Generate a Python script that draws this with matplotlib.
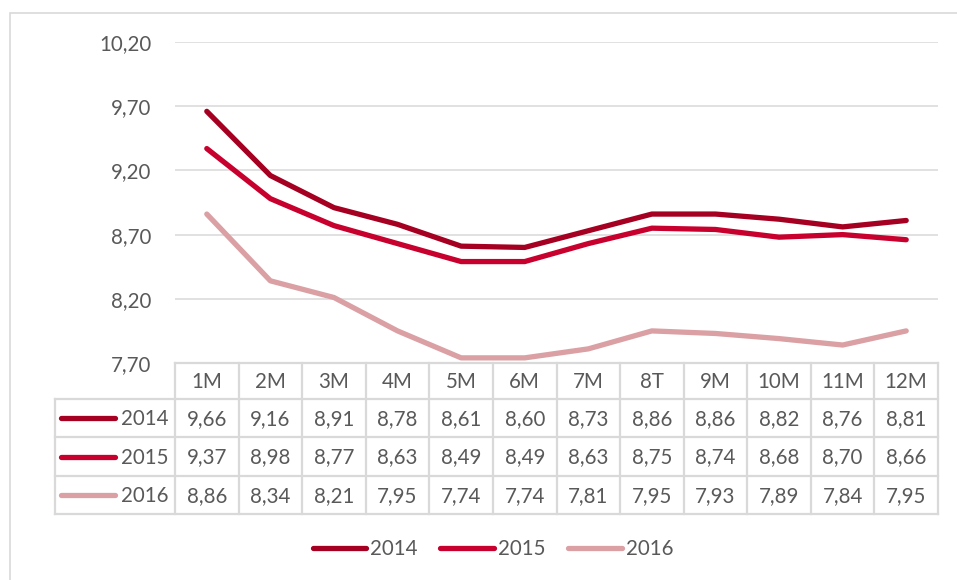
import matplotlib
matplotlib.use("Agg")
import matplotlib.pyplot as plt
from matplotlib.lines import Line2D
from matplotlib.patches import Rectangle

months = ["1M", "2M", "3M", "4M", "5M", "6M", "7M", "8T", "9M", "10M", "11M", "12M"]
series_names = ["2014", "2015", "2016"]
v2014 = [9.66, 9.16, 8.91, 8.78, 8.61, 8.60, 8.73, 8.86, 8.86, 8.82, 8.76, 8.81]
v2015 = [9.37, 8.98, 8.77, 8.63, 8.49, 8.49, 8.63, 8.75, 8.74, 8.68, 8.70, 8.66]
v2016 = [8.86, 8.34, 8.21, 7.95, 7.74, 7.74, 7.81, 7.95, 7.93, 7.89, 7.84, 7.95]
yticks = [7.70, 8.20, 8.70, 9.20, 9.70, 10.20]

colors = ["#A50021", "#C8002D", "#DAA0A4"]
series = [v2014, v2015, v2016]
txt = "#595959"
grid = "#D9D9D9"
FONT = "Lato"
FS = 14.8

W, H = 957, 580
fig = plt.figure(figsize=(W / 100, H / 100), dpi=100)

def fx(px):
    return px / W

def fy(py):
    return 1 - py / H

# outer frame
fig.patches.append(Rectangle((fx(9.5), fy(1000)), fx(2000), fy(12.5) - fy(1000),
                             transform=fig.transFigure, fill=False,
                             edgecolor=grid, linewidth=1.2))

# plot area
x0, x1 = 175, 938
ytop, ybot = 42, 363
ax = fig.add_axes([fx(x0), fy(ybot), fx(x1) - fx(x0), fy(ytop) - fy(ybot)])
xs = list(range(len(months)))
for vals, c in zip(series, colors):
    ax.plot(xs, vals, color=c, linewidth=3.8, solid_capstyle="round",
            solid_joinstyle="round", zorder=3)
ax.set_xlim(-0.5, len(months) - 0.5)
ax.set_ylim(yticks[0], yticks[-1])
ax.set_yticks(yticks)
ax.set_yticklabels([f"{t:.2f}".replace(".", ",") for t in yticks],
                   fontsize=FS, color=txt, fontfamily=FONT)
ax.tick_params(axis="y", length=0, pad=17)
ax.set_xticks([])
ax.grid(axis="y", color=grid, linewidth=1.1)
for s in ax.spines.values():
    s.set_visible(False)
ax.set_facecolor("none")

# data table
colw = (x1 - x0) / len(months)
hdr_left = 55
rows_y = [363, 399, 437, 476, 514]
tab = fig.add_axes([fx(hdr_left), fy(rows_y[-1]), fx(x1) - fx(hdr_left),
                    fy(rows_y[0]) - fy(rows_y[-1])])
hdr_cols = (x0 - hdr_left) / colw
tab.set_xlim(-0.5 - hdr_cols, len(months) - 0.5)
tab.set_ylim(rows_y[-1], rows_y[0])
tab.axis("off")
lw = 1.6
# horizontal lines
tab.plot([-0.5, len(months) - 0.5], [rows_y[0]] * 2, color=grid, lw=lw, clip_on=False)
for ry in rows_y[1:]:
    tab.plot([-0.5 - hdr_cols, len(months) - 0.5], [ry] * 2, color=grid, lw=lw, clip_on=False)
# vertical lines
for k in range(len(months) + 1):
    tab.plot([k - 0.5] * 2, [rows_y[0], rows_y[-1]], color=grid, lw=lw, clip_on=False)
tab.plot([-0.5 - hdr_cols] * 2, [rows_y[1], rows_y[-1]], color=grid, lw=lw, clip_on=False)
# header
hc = (rows_y[0] + rows_y[1]) / 2
for i, m in enumerate(months):
    tab.text(i, hc + 1, m, ha="center", va="center", fontsize=FS, color=txt, fontfamily=FONT)
# rows
for r, (name, vals, c) in enumerate(zip(series_names, series, colors)):
    cy = (rows_y[r + 1] + rows_y[r + 2]) / 2
    hl = -0.5 - hdr_cols
    tab.plot([hl + 0.09, hl + 0.95], [cy, cy], color=c, lw=3.8,
             solid_capstyle="round", clip_on=False)
    tab.text(-0.6, cy + 1, name, ha="right", va="center", fontsize=FS, color=txt, fontfamily=FONT)
    for i, v in enumerate(vals):
        tab.text(i, cy + 1, f"{v:.2f}".replace(".", ","), ha="center", va="center",
                 fontsize=FS, color=txt, fontfamily=FONT)

# legend
handles = [Line2D([], [], color=c, lw=3.8, solid_capstyle="round") for c in colors]
leg = fig.legend(handles, series_names, loc="center", bbox_to_anchor=(fx(493), fy(549)),
                 ncol=3, frameon=False, handlelength=2.6, handletextpad=0.2,
                 columnspacing=1.1, prop={"family": FONT, "size": FS})
for t in leg.get_texts():
    t.set_color(txt)

fig.savefig("out.png", dpi=100)
